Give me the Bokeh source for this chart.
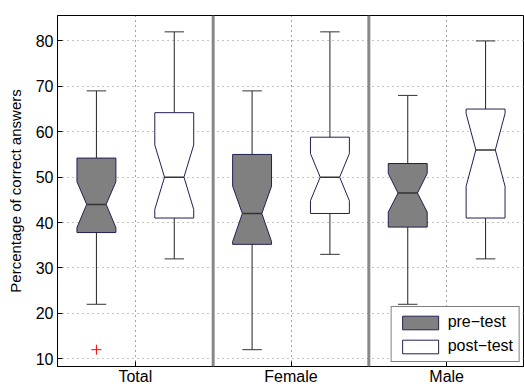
from bokeh.plotting import figure
from bokeh.models import Range1d, FixedTicker, Span
from bokeh.embed import file_html
from bokeh.resources import INLINE

# ---- data ----
groups = ["Total", "Female", "Male"]

pre_lo_whisker = [22, 12, 22]
pre_q1 = [37.8, 35.2, 39.0]
pre_notch_lo = [38.9, 35.8, 42.3]
pre_median = [44.0, 42.0, 46.5]
pre_notch_hi = [49.0, 48.0, 50.8]
pre_q3 = [54.2, 55.0, 53.0]
pre_hi_whisker = [69, 69, 68]
pre_outliers_group = ["Total"]
pre_outliers_value = [12]

post_lo_whisker = [32, 33, 32]
post_q1 = [41.0, 42.0, 41.0]
post_notch_lo = [42.9, 44.8, 48.0]
post_median = [50.0, 50.0, 56.0]
post_notch_hi = [57.1, 55.2, 64.0]
post_q3 = [64.2, 58.8, 65.0]
post_hi_whisker = [82, 82, 80]

y_ticks = [10, 20, 30, 40, 50, 60, 70, 80]

FONT = "Liberation Sans"
EDGE = "#202050"

positions = list(range(1, len(groups) + 1))
OFFSET = 0.25
HW = 0.125      # box half width
CAP = 0.0625    # whisker cap half width

p = figure(width=524, height=387, output_backend="svg", toolbar_location=None,
           x_range=Range1d(0.5, 3.5), y_range=Range1d(8.3, 85.6),
           min_border_left=57, min_border_top=15, min_border_right=0,
           min_border_bottom=0)
p.background_fill_color = "white"
p.border_fill_color = "white"
p.outline_line_color = "black"
p.outline_line_width = 1

# grids
p.ygrid.ticker = FixedTicker(ticks=y_ticks)
p.ygrid.grid_line_color = "#888888"
p.ygrid.grid_line_dash = "1 4"
p.xgrid.ticker = FixedTicker(ticks=positions)
p.xgrid.grid_line_color = "#444444"
p.xgrid.grid_line_dash = "1 4"

# axes
p.xaxis.ticker = FixedTicker(ticks=positions)
p.xaxis.major_label_overrides = {pos: g for pos, g in zip(positions, groups)}
p.yaxis.ticker = FixedTicker(ticks=y_ticks)
for ax in (p.xaxis[0], p.yaxis[0]):
    ax.major_tick_in = 5
    ax.major_tick_out = 0
    ax.minor_tick_line_color = None
    ax.axis_line_color = "black"
    ax.major_tick_line_color = "black"
    ax.major_label_text_font = FONT
    ax.major_label_text_font_size = "16px"
    ax.major_label_text_color = "black"
p.xaxis.major_label_standoff = 1
p.yaxis.major_label_standoff = 4
p.yaxis.axis_label = "Percentage of correct answers"
p.yaxis.axis_label_text_font = FONT
p.yaxis.axis_label_text_font_size = "15px"
p.yaxis.axis_label_text_font_style = "normal"
p.yaxis.axis_label_text_color = "black"
p.yaxis.axis_label_standoff = 9


def notch_shapes(centers, q1, nlo, med, nhi, q3):
    xs, ys = [], []
    for c, a, b, m, d, e in zip(centers, q1, nlo, med, nhi, q3):
        b = max(a, b)
        d = min(e, d)
        xs.append([c - HW, c - HW, c - HW / 2, c - HW, c - HW,
                   c + HW, c + HW, c + HW / 2, c + HW, c + HW])
        ys.append([a, b, m, d, e, e, d, m, b, a])
    return xs, ys


series = [
    ("pre\u2212test", -OFFSET, "#808080",
     pre_lo_whisker, pre_q1, pre_notch_lo, pre_median, pre_notch_hi, pre_q3, pre_hi_whisker),
    ("post\u2212test", OFFSET, "white",
     post_lo_whisker, post_q1, post_notch_lo, post_median, post_notch_hi, post_q3, post_hi_whisker),
]

for name, off, fill, lo, q1, nlo, med, nhi, q3, hi in series:
    cx = [pos + off for pos in positions]
    # whiskers
    p.segment(x0=cx, x1=cx, y0=q3, y1=hi, line_color="#222222", line_width=1)
    p.segment(x0=cx, x1=cx, y0=lo, y1=q1, line_color="#222222", line_width=1)
    p.segment(x0=[c - CAP for c in cx], x1=[c + CAP for c in cx], y0=hi, y1=hi,
              line_color="#333333", line_width=1)
    p.segment(x0=[c - CAP for c in cx], x1=[c + CAP for c in cx], y0=lo, y1=lo,
              line_color="#333333", line_width=1)
    # notched boxes
    xs, ys = notch_shapes(cx, q1, nlo, med, nhi, q3)
    p.patches(xs, ys, fill_color=fill, line_color=EDGE, line_width=1, legend_label=name)
    # medians
    p.segment(x0=[c - HW / 2 for c in cx], x1=[c + HW / 2 for c in cx], y0=med, y1=med,
              line_color="#333333", line_width=1.5)

# outliers
gidx = {g: pos for g, pos in zip(groups, positions)}
p.scatter(x=[gidx[g] - OFFSET for g in pre_outliers_group], y=pre_outliers_value,
          marker="cross", size=10, line_color="red", line_width=1)

# group separators
for a, b in zip(positions[:-1], positions[1:]):
    p.add_layout(Span(location=(a + b) / 2, dimension="height",
                      line_color="#888888", line_width=3))

# legend
lg = p.legend[0]
lg.location = "bottom_right"
lg.margin = 4
lg.padding = 6
lg.spacing = 6
lg.glyph_width = 45
lg.glyph_height = 17
lg.label_height = 17
lg.label_standoff = 5
lg.label_text_font = FONT
lg.label_text_font_size = "16px"
lg.label_text_color = "black"
lg.border_line_color = "black"
lg.border_line_width = 1
lg.background_fill_alpha = 1

open("out.html", "w").write(file_html(p, INLINE))
